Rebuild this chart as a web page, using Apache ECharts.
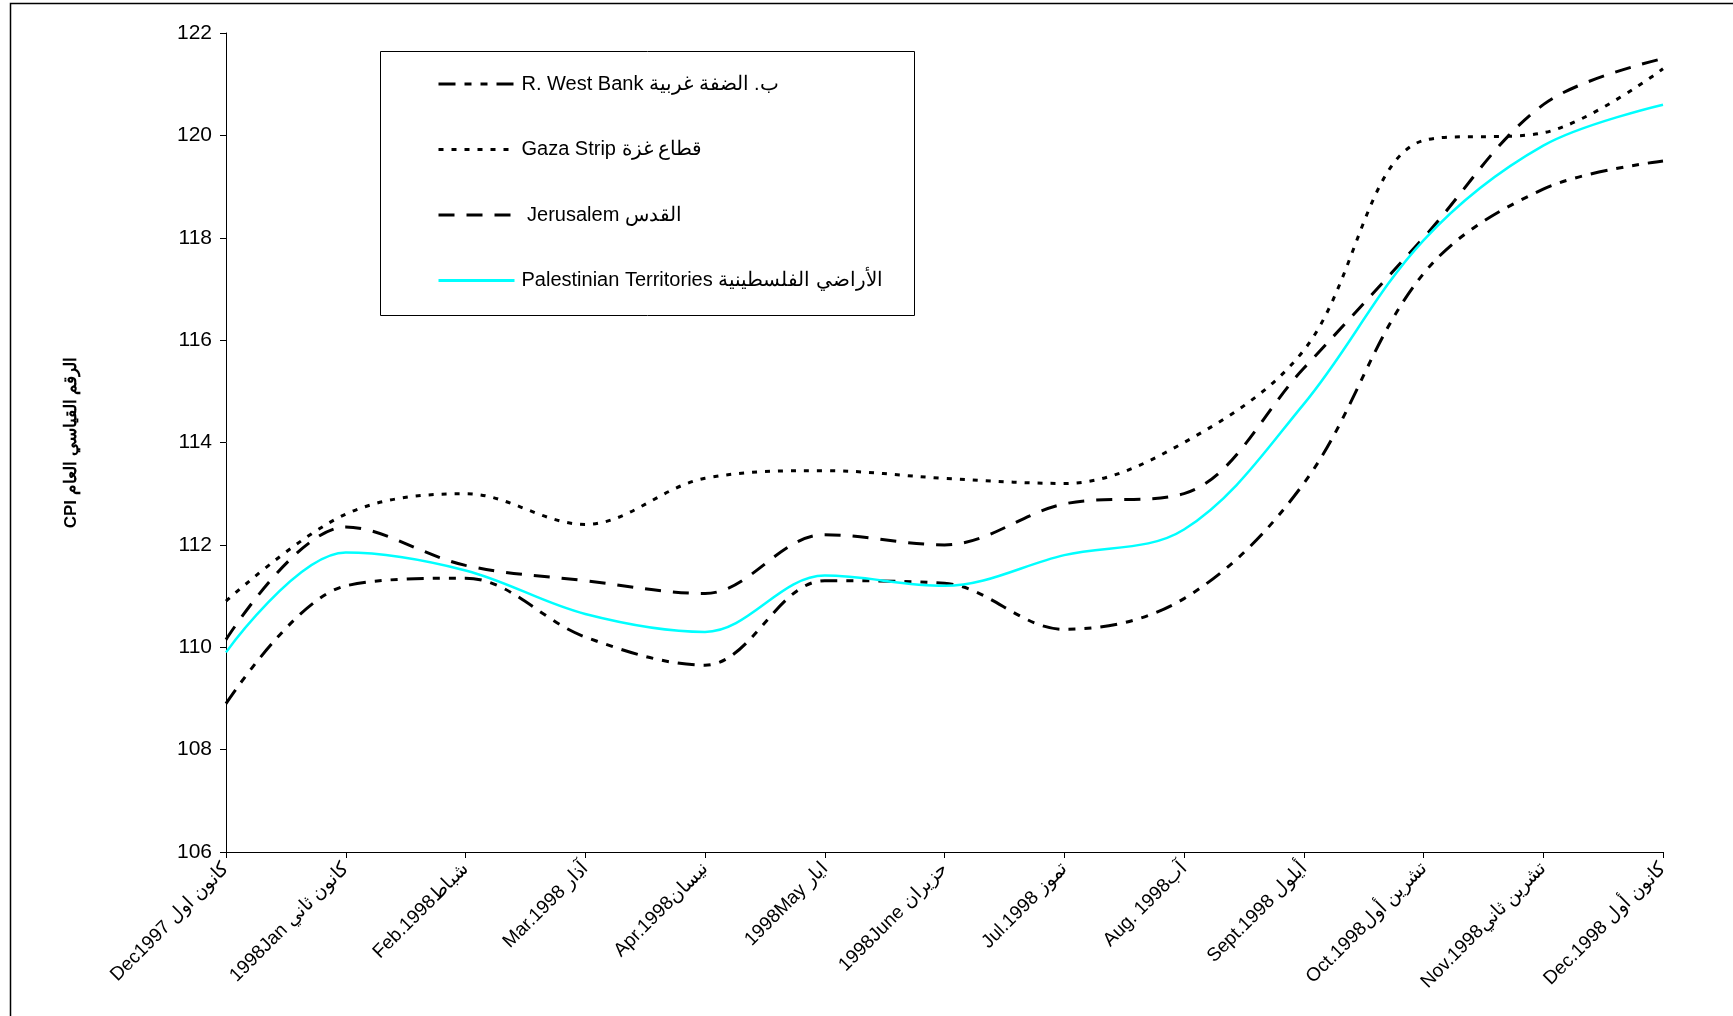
<!DOCTYPE html>
<html>
<head>
<meta charset="utf-8">
<script src="https://cdn.jsdelivr.net/npm/echarts@6/dist/echarts.min.js"></script>
<style>
html,body{margin:0;padding:0;background:#fff;}
#chart{width:1733px;height:1016px;}
</style>
</head>
<body>
<div id="chart"></div>
<script>
const categories = [
  "Dec1997 كانون اول",
  "1998Jan كانون ثاني",
  "Feb.1998شباط",
  "Mar.1998 آذار",
  "Apr.1998نيسان",
  "1998May ايار",
  "1998June حزيران",
  "Jul.1998 تموز",
  "Aug. 1998آب",
  "Sept.1998 أيلول",
  "Oct.1998تشرين أول",
  "Nov.1998تشرين ثاني",
  "Dec.1998 كانون أول"
];
const westBank   = [108.9, 111.2, 111.35, 110.2, 109.65, 111.3, 111.25, 110.35, 110.95, 113.2, 117.3, 118.95, 119.5];
const gaza       = [110.9, 112.6, 113.0, 112.4, 113.3, 113.45, 113.3, 113.2, 114.0, 115.8, 119.9, 120.05, 121.3];
const jerusalem  = [110.15, 112.35, 111.6, 111.3, 111.05, 112.2, 112.0, 112.8, 113.0, 115.45, 118.0, 120.6, 121.5];
const territories= [109.9, 111.85, 111.5, 110.65, 110.3, 111.4, 111.2, 111.8, 112.3, 114.75, 117.95, 119.8, 120.6];
const seriesNames = [
  "R. West Bank ب. الضفة غربية",
  "Gaza Strip قطاع غزة",
  " Jerusalem القدس",
  "Palestinian Territories الأراضي الفلسطينية"
];
const yTicks = {min: 106, max: 122, interval: 2};
const yTitle = "CPI الرقم القياسي العام";

const FONT = "Liberation Sans, Arial, sans-serif";
const chart = echarts.init(document.getElementById('chart'), null, {renderer: 'canvas'});

function lineSeries(name, data, color, width, dash) {
  return {
    name: name, type: 'line', data: data, smooth: 0.35,
    symbol: 'none', showSymbol: false,
    lineStyle: {color: color, width: width, type: dash, cap: 'butt'},
    itemStyle: {color: color},
    emphasis: {disabled: true}
  };
}

chart.setOption({
  animation: false,
  backgroundColor: '#fff',
  textStyle: {fontFamily: FONT, color: '#000'},
  grid: {left: 226, right: 70, top: 33, bottom: 164, containLabel: false},
  graphic: [
    {type: 'rect', shape: {x: 10.5, y: 3.5, width: 1760, height: 1100},
     style: {fill: 'none', stroke: '#000', lineWidth: 1.5}, silent: true, z: -1},
    {type: 'rect', shape: {x: 380.5, y: 51.5, width: 534, height: 264},
     style: {fill: '#fff', stroke: '#000', lineWidth: 1}, silent: true, z: 5}
  ],
  legend: {
    orient: 'vertical', left: 437, top: 74, itemGap: 45.5, padding: 0,
    itemWidth: 76, itemHeight: 20, z: 10,
    icon: 'inherit',
    itemStyle: {opacity: 0},
    lineStyle: {width: 3},
    textStyle: {fontFamily: FONT, fontSize: 20, color: '#000', padding: [0, 0, 0, 2]},
    data: seriesNames
  },
  xAxis: {
    type: 'category', data: categories, boundaryGap: false,
    axisLine: {lineStyle: {color: '#000', width: 1}},
    axisTick: {show: true, interval: 0, length: 6, lineStyle: {color: '#000'}},
    axisLabel: {interval: 0, rotate: 45, fontSize: 19, color: '#000', fontFamily: FONT, margin: 14},
    splitLine: {show: false}
  },
  yAxis: {
    type: 'value', min: yTicks.min, max: yTicks.max, interval: yTicks.interval,
    name: yTitle, nameLocation: 'middle', nameRotate: 90, nameGap: 146,
    nameTextStyle: {fontFamily: FONT, fontSize: 17, fontWeight: 'bold', color: '#000'},
    axisLine: {show: true, lineStyle: {color: '#000', width: 1}},
    axisTick: {show: true, length: 6, lineStyle: {color: '#000'}},
    axisLabel: {fontSize: 21, color: '#000', fontFamily: FONT, margin: 14},
    splitLine: {show: false}
  },
  series: [
    lineSeries(seriesNames[0], westBank, '#000', 3, [17, 9, 7, 9, 7, 9]),
    lineSeries(seriesNames[1], gaza, '#000', 3, [5, 8]),
    lineSeries(seriesNames[2], jerusalem, '#000', 3, [16, 12]),
    lineSeries(seriesNames[3], territories, '#00FFFF', 2.5, 'solid')
  ]
});
</script>
</body>
</html>
